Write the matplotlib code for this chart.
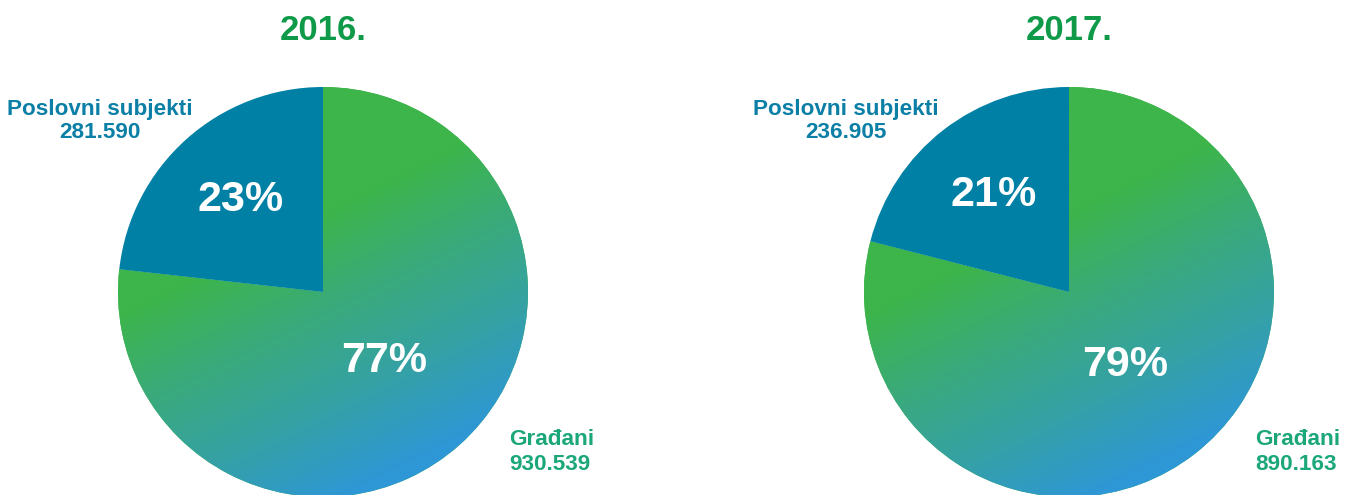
import numpy as np
import matplotlib
matplotlib.use("Agg")
import matplotlib.pyplot as plt
from matplotlib.colors import LinearSegmentedColormap

years = ["2016.", "2017."]
categories = ["Poslovni subjekti", "Građani"]
poslovni = [281590, 236905]
gradjani = [930539, 890163]
value_labels_poslovni = ["281.590", "236.905"]
value_labels_gradjani = ["930.539", "890.163"]

W, H = 1354, 495
plt.rcParams['font.family'] = ['Liberation Sans', 'DejaVu Sans']
fig = plt.figure(figsize=(W / 100, H / 100), dpi=100)
ax = fig.add_axes([0, 0, 1, 1])
ax.set_xlim(0, W)
ax.set_ylim(0, H)
ax.set_aspect('equal')
ax.axis('off')

centers = [(323, H - 292), (1069, H - 292)]
R = 205
blue = '#0080a5'
title_col = '#0e9a48'
lab_blue = '#0b7fa5'
lab_green = '#1ba77a'
cmap = LinearSegmentedColormap.from_list('g', ['#3db54a', '#3aaa7c', '#35a1a6', '#2e97d6'])

for i in range(2):
    cx, cy = centers[i]
    vals = [poslovni[i], gradjani[i]]
    wedges, _ = ax.pie(vals, center=(cx, cy), radius=R, startangle=90,
                       colors=[blue, '#3db54a'], frame=True,
                       wedgeprops=dict(linewidth=0))
    n = 400
    xs = np.linspace(cx - R, cx + R, n)
    ys = np.linspace(cy - R, cy + R, n)
    X, Y = np.meshgrid(xs, ys)
    d = np.array([0.5, -1.0]); d = d / np.linalg.norm(d)
    proj = ((X - cx) * d[0] + (Y - cy) * d[1]) / R
    t = np.clip((proj + 0.35) / 1.3, 0, 1)
    im = ax.imshow(t, extent=(cx - R, cx + R, cy - R, cy + R), origin='lower',
                   cmap=cmap, vmin=0, vmax=1, interpolation='bilinear', zorder=2)
    im.set_clip_path(wedges[1])
    wedges[0].set_zorder(3)
    total = sum(vals)
    dists = [0.6, 0.45]
    for w, v, dd in zip(wedges, vals, dists):
        ang = np.deg2rad((w.theta1 + w.theta2) / 2)
        ax.text(cx + dd * R * np.cos(ang), cy + dd * R * np.sin(ang),
                f"{round(100 * v / total)}%", color='white', fontsize=31,
                fontweight='bold', ha='center', va='center', zorder=5)
    ax.text(cx, H - 30, years[i], color=title_col, fontsize=25, fontweight='bold',
            ha='center', va='center')
    ax.text(cx - 223, H - 121, categories[0] + "\n" + value_labels_poslovni[i],
            color=lab_blue, fontsize=16.2, fontweight='bold', ha='center', va='center',
            linespacing=1.1)
    ax.text(cx + 186, H - 452, categories[1] + "\n" + value_labels_gradjani[i],
            color=lab_green, fontsize=16.2, fontweight='bold', ha='left', va='center',
            linespacing=1.2)

ax.set_xlim(0, W)
ax.set_ylim(0, H)
ax.axis('off')
fig.savefig('out.png', dpi=100)
